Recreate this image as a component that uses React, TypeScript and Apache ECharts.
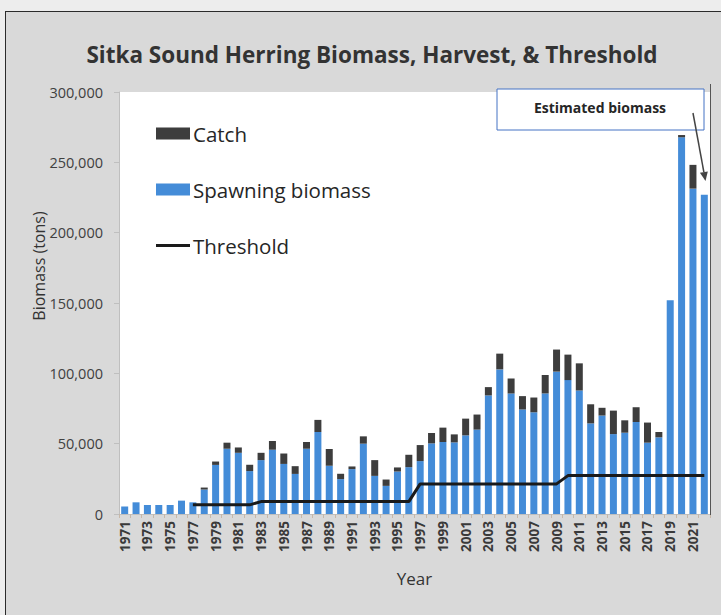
import React, { useEffect, useRef } from "react";
import * as echarts from "echarts";

const years = [
  "1971","1972","1973","1974","1975","1976","1977","1978","1979","1980",
  "1981","1982","1983","1984","1985","1986","1987","1988","1989","1990",
  "1991","1992","1993","1994","1995","1996","1997","1998","1999","2000",
  "2001","2002","2003","2004","2005","2006","2007","2008","2009","2010",
  "2011","2012","2013","2014","2015","2016","2017","2018","2019","2020",
  "2021","2022",
];

const spawningBiomass = [
  5400, 8300, 6400, 6400, 6400, 9500, 8300, 17400, 34900, 46400,
  43500, 30500, 38300, 45700, 35600, 28500, 46400, 58300, 34300, 24800,
  31900, 50000, 27100, 20000, 30200, 33300, 37600, 50200, 51200, 50900,
  55900, 60000, 84300, 102800, 85700, 74300, 72300, 85700, 101200, 95200,
  87800, 64400, 70000, 56800, 57800, 65400, 50700, 54500, 152000, 267800,
  231300, 227000,
];

const catchTons = [
  0, 0, 0, 0, 0, 0, 0, 1400, 2400, 4300,
  3800, 4500, 5200, 6200, 7400, 5500, 4800, 8600, 11900, 3800,
  1900, 5200, 11200, 4500, 2900, 8800, 11400, 7400, 10200, 5700,
  11900, 10700, 5900, 11200, 10700, 9500, 10500, 13100, 15700, 18100,
  19300, 13600, 5500, 16700, 8800, 10500, 14300, 3800, 0, 1600,
  16900, 0,
];

const threshold = [
  null, null, null, null, null, null, 6500, 6500, 6500, 6500,
  6500, 6500, 8800, 8800, 8800, 8800, 8800, 8800, 8800, 8800,
  8800, 8800, 8800, 8800, 8800, 8800, 21400, 21400, 21400, 21400,
  21400, 21400, 21400, 21400, 21400, 21400, 21400, 21400, 21400, 27300,
  27300, 27300, 27300, 27300, 27300, 27300, 27300, 27300, 27300, 27300,
  27300, 27300,
];

const yTicks = [0, 50000, 100000, 150000, 200000, 250000, 300000];

const FONT = "'Open Sans', 'Noto Sans', sans-serif";

export default function App() {
  const ref = useRef<HTMLDivElement>(null);

  useEffect(() => {
    if (!ref.current) return;
    const chart = echarts.init(ref.current, undefined, { renderer: "svg" });

    // arrow geometry (annotation only)
    const sx = 693, sy = 113, ex = 705.5, ey = 181;
    const dx = ex - sx, dy = ey - sy;
    const len = Math.sqrt(dx * dx + dy * dy);
    const ux = dx / len, uy = dy / len;
    const hl = 9, hw = 4;
    const bx = ex - ux * hl, by = ey - uy * hl;
    const px = -uy * hw, py = ux * hw;

    chart.setOption({
      animation: false,
      backgroundColor: "transparent",
      textStyle: { fontFamily: FONT },
      title: {
        text: "Sitka Sound Herring Biomass, Harvest, & Threshold",
        left: 372,
        top: 43,
        textAlign: "center",
        padding: 0,
        textStyle: {
          fontFamily: FONT,
          fontSize: 22.5,
          fontWeight: "bold",
          color: "#333333",
        },
      },
      legend: {
        orient: "vertical",
        left: 156,
        top: 123,
        padding: 0,
        itemWidth: 34,
        itemHeight: 12,
        itemGap: 35,
        textStyle: {
          fontFamily: FONT,
          fontSize: 20.5,
          lineHeight: 21,
          color: "#262626",
          padding: [0, 0, 0, -2],
        },
        data: [
          { name: "Catch", icon: "rect" },
          { name: "Spawning biomass", icon: "rect" },
          { name: "Threshold", icon: "path://M0,0H34V3H0Z" },
        ],
      },
      grid: {
        left: 119,
        top: 92,
        right: 11,
        bottom: 101,
        show: true,
        backgroundColor: "#ffffff",
        borderWidth: 0,
        containLabel: false,
        outerBoundsMode: "none",
      },
      xAxis: {
        type: "category",
        data: years,
        name: "Year",
        nameLocation: "middle",
        nameGap: 56,
        nameTextStyle: { fontFamily: FONT, fontSize: 17, color: "#333333" },
        axisLine: { lineStyle: { color: "#bfbfbf", width: 1 } },
        axisTick: { show: true, interval: 0, length: 4, lineStyle: { color: "#c8b8a8" } },
        axisLabel: {
          interval: 1,
          rotate: 90,
          margin: 7,
          fontFamily: FONT,
          fontSize: 13.5,
          fontWeight: "bold",
          color: "#3a3a3a",
        },
      },
      yAxis: {
        type: "value",
        min: yTicks[0],
        max: yTicks[yTicks.length - 1],
        interval: 50000,
        splitLine: { show: false },
        axisLine: { show: true, lineStyle: { color: "#bfbfbf", width: 1 } },
        axisTick: { show: true, length: 5, lineStyle: { color: "#bfbfbf" } },
        axisLabel: {
          margin: 16,
          fontFamily: FONT,
          fontSize: 14.5,
          color: "#404040",
          formatter: (v: number) => v.toLocaleString("en-US"),
        },
      },
      series: [
        {
          name: "Spawning biomass",
          type: "bar",
          stack: "total",
          data: spawningBiomass,
          barWidth: 7,
          itemStyle: { color: "#448cd8" },
          z: 2,
        },
        {
          name: "Catch",
          type: "bar",
          stack: "total",
          data: catchTons,
          barWidth: 7,
          itemStyle: { color: "#3d3d3d" },
          z: 2,
        },
        {
          name: "Threshold",
          type: "line",
          data: threshold,
          symbol: "none",
          showSymbol: false,
          lineStyle: { color: "#1a1a1a", width: 3 },
          itemStyle: { color: "#1a1a1a" },
          z: 5,
        },
      ],
      graphic: [
        {
          type: "line",
          shape: { x1: 710.5, y1: 84, x2: 710.5, y2: 515 },
          style: { stroke: "#555555", lineWidth: 1 },
          z: 10,
        },
        {
          type: "rect",
          shape: { x: 497, y: 89, width: 207, height: 41 },
          style: { fill: "#ffffff", stroke: "#4472c4", lineWidth: 1 },
          z: 20,
        },
        {
          type: "text",
          x: 600,
          y: 107,
          style: {
            text: "Estimated biomass",
            fontFamily: FONT,
            fontSize: 14,
            fontWeight: "bold",
            fill: "#262626",
            textAlign: "center",
            textVerticalAlign: "middle",
          },
          z: 21,
        },
        {
          type: "line",
          shape: { x1: sx, y1: sy, x2: bx, y2: by },
          style: { stroke: "#444444", lineWidth: 1.5 },
          z: 22,
        },
        {
          type: "polygon",
          shape: {
            points: [
              [ex, ey],
              [bx + px, by + py],
              [bx - px, by - py],
            ],
          },
          style: { fill: "#444444" },
          z: 22,
        },
        {
          type: "text",
          x: 39,
          y: 266,
          rotation: Math.PI / 2,
          style: {
            text: "Biomass (tons)",
            fontFamily: FONT,
            fontSize: 16,
            fill: "#333333",
            textAlign: "center",
            textVerticalAlign: "middle",
          },
          z: 10,
        },
      ],
    });

    return () => chart.dispose();
  }, []);

  return (
    <div
      style={{
        position: "fixed",
        left: 0,
        top: 0,
        width: 721,
        height: 615,
        background: "#ededed",
        overflow: "hidden",
      }}
    >
      <div
        style={{
          position: "absolute",
          left: 5,
          top: 11,
          width: 740,
          height: 640,
          border: "1.5px solid #2b2b2b",
          background: "#d9d9d9",
        }}
      />
      <div
        ref={ref}
        style={{ position: "absolute", left: 0, top: 0, width: 721, height: 615 }}
      />
    </div>
  );
}
